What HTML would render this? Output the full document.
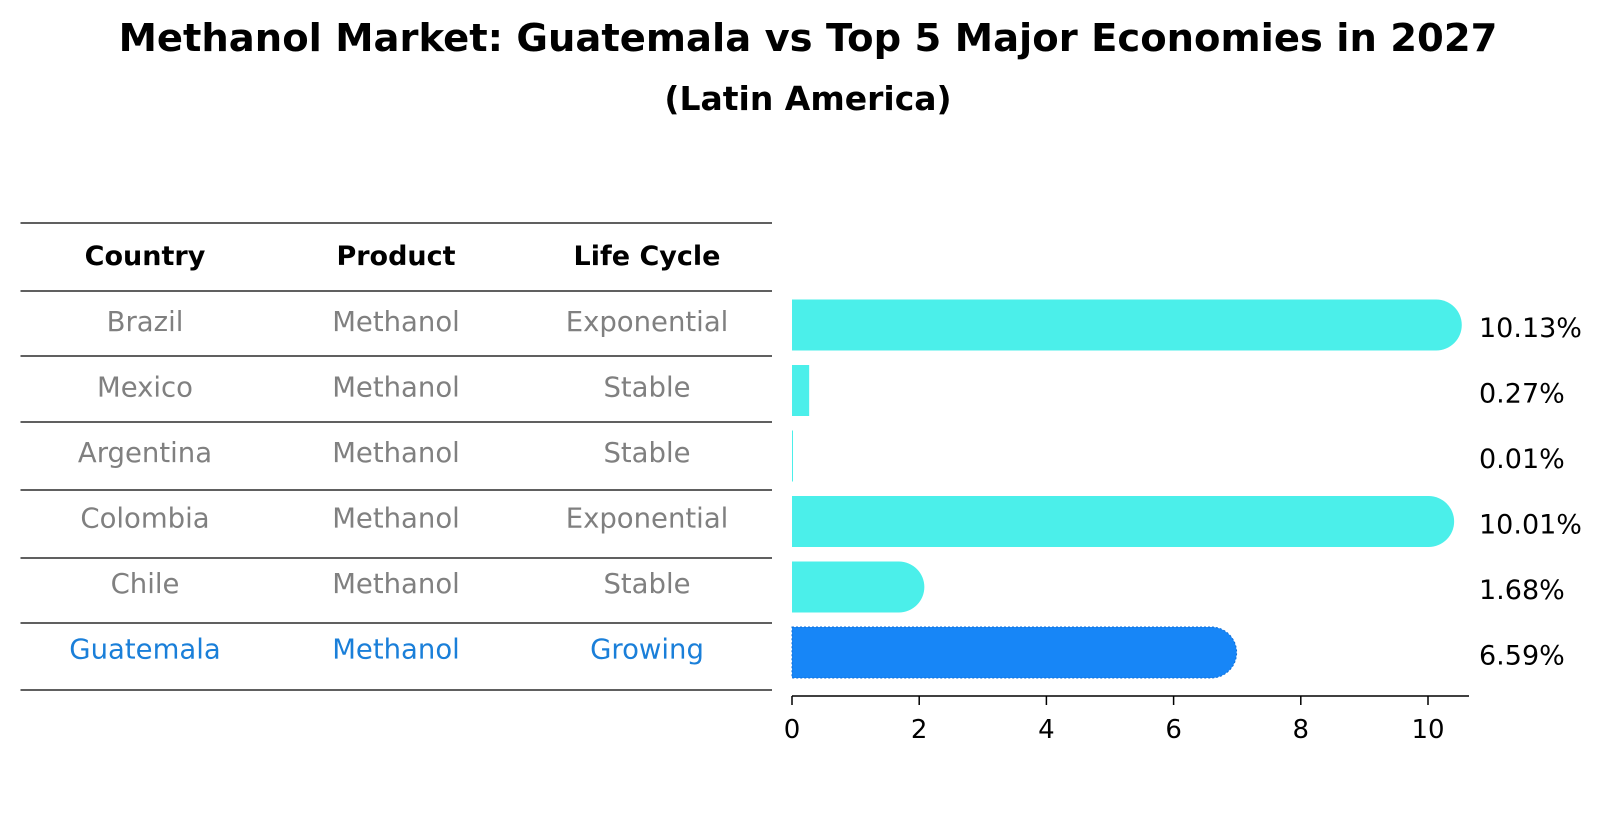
<!DOCTYPE html>
<html><head><meta charset="utf-8"><style>
body{margin:0;background:#fff;width:1604px;height:823px;overflow:hidden;font-family:"DejaVu Sans","Liberation Sans",sans-serif}
svg text{font-family:"DejaVu Sans","Liberation Sans",sans-serif}
</style></head><body>
<svg id="c" width="1604" height="823">
<text x="808" y="51" text-anchor="middle" font-size="38.5" font-weight="bold">Methanol Market: Guatemala vs Top 5 Major Economies in 2027</text>
<text x="808" y="110" text-anchor="middle" font-size="33" font-weight="bold">(Latin America)</text>
<g id="tbl"></g>
<g id="bars"></g>
</svg>
<script>
const countries=["Brazil","Mexico","Argentina","Colombia","Chile","Guatemala"];
const products=["Methanol","Methanol","Methanol","Methanol","Methanol","Methanol"];
const lifeCycles=["Exponential","Stable","Stable","Exponential","Stable","Growing"];
const values=[10.13,0.27,0.01,10.01,1.68,6.59];
const valueLabels=["10.13%","0.27%","0.01%","10.01%","1.68%","6.59%"];
const ticks=[0,2,4,6,8,10];
const NS="http://www.w3.org/2000/svg";
function mk(t,a,p){const e=document.createElementNS(NS,t);for(const k in a)e.setAttribute(k,a[k]);p.appendChild(e);return e;}
const x0=792,ppu=63.6,rowY0=325,rowH=65.5,barH=51,r=25.5;
const X=v=>x0+v*ppu, Y=i=>rowY0+i*rowH;
const tbl=document.getElementById('tbl'),bars=document.getElementById('bars');
const colX=[145,396,647];
const lineY=[223,291,356,422,490,558,623,690];
lineY.forEach((y,i)=>{const l=mk('line',{x1:20.5,x2:772,y1:y,y2:y,stroke:'#000','stroke-width':1.2},tbl);

});
["Country","Product","Life Cycle"].forEach((h,j)=>{const t=mk('text',{x:colX[j],y:265,'text-anchor':'middle','font-size':27,'font-weight':'bold'},tbl);t.textContent=h;

});
countries.forEach((c,i)=>{const last=i===countries.length-1;const col=last?'#1a7fd9':'#808080';
[c,products[i],lifeCycles[i]].forEach((s,j)=>{const t=mk('text',{x:colX[j],y:Y(i)+6,'text-anchor':'middle','font-size':27.5,fill:col},tbl);t.textContent=s;

});
const v=values[i],w=X(v)-x0,y=Y(i)-barH/2;const fill=last?'#1786f7':'#4befea';
let d;
if(v>1){d=`M${x0},${y}H${x0+w}A${r},${r} 0 0 1 ${x0+w},${y+barH}H${x0}Z`;}
else{d=`M${x0},${y}H${x0+Math.max(w,1)}V${y+barH}H${x0}Z`;}
const p=mk('path',{d:d,fill:fill},bars);
if(last){p.setAttribute('stroke','#0f6fd8');p.setAttribute('stroke-dasharray','2 2');p.setAttribute('stroke-width','1');}


const t=mk('text',{x:1479,y:Y(i)+12,'font-size':27},bars);t.textContent=valueLabels[i];

});
const ax=mk('line',{x1:x0,x2:1469,y1:696,y2:696,stroke:'#000','stroke-width':1.5},bars);


ticks.forEach(v=>{const l=mk('line',{x1:X(v),x2:X(v),y1:696,y2:705,stroke:'#000','stroke-width':1.5},bars);


const t=mk('text',{x:X(v),y:738,'text-anchor':'middle','font-size':26},bars);t.textContent=v;

});
</script>
</body></html>
